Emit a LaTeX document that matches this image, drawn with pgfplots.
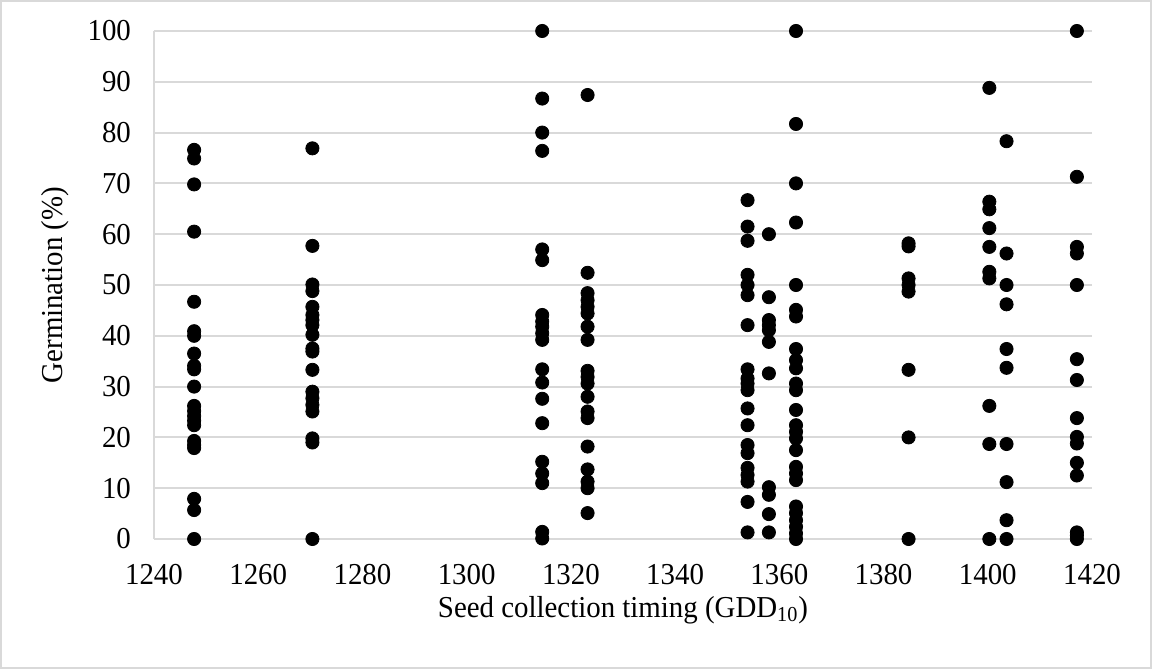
\documentclass[border=0pt]{standalone}
\usepackage{fontspec}
\setmainfont[FakeStretch=0.95]{Liberation Serif}
\usepackage{pgfplots}
\pgfplotsset{compat=1.18}
\begin{document}
\begin{tikzpicture}
\begin{axis}[
  scale only axis,
  width=469pt, height=254pt,
  xmin=1240, xmax=1420, ymin=0, ymax=100,
  xtick={1240,1260,...,1420},
  ytick={0,10,...,100},
  axis x line*=bottom, axis y line*=left,
  axis line style={draw=black!15, line width=1pt, -},
  major tick length=0pt,
  ymajorgrids, grid style={draw=black!15, line width=1pt},
  /pgf/number format/assume math mode=true,
  /pgf/number format/1000 sep={},
  tick label style={font=\fontsize{15.2}{18}\selectfont},
  xticklabel style={yshift=-9pt},
  yticklabel style={xshift=-8pt},
  label style={font=\fontsize{15.2}{18}\selectfont},
  xlabel={Seed collection timing (GDD\textsubscript{10})},
  ylabel={Germination (\%)},
  xlabel style={at={(axis description cs:0.5,-0.14)}, anchor=center},
  ylabel style={at={(axis description cs:-0.1055,0.5)}, anchor=center},
  clip=false,
]
\coordinate (O) at (rel axis cs:0,0);
\addplot[only marks, mark=*, mark size=3.3pt, black] table {
x y
1247.7 76.6
1247.7 74.9
1247.7 69.8
1247.7 60.5
1247.7 46.7
1247.7 40.9
1247.7 40.0
1247.7 36.5
1247.7 34.1
1247.7 33.4
1247.7 30.0
1247.7 26.2
1247.7 25.2
1247.7 24.2
1247.7 23.3
1247.7 22.4
1247.7 19.3
1247.7 18.5
1247.7 17.9
1247.7 7.9
1247.7 5.7
1247.7 0
1270.4 76.9
1270.4 57.7
1270.4 50.1
1270.4 48.8
1270.4 45.7
1270.4 44.1
1270.4 43.1
1270.4 42.1
1270.4 40.2
1270.4 37.5
1270.4 36.9
1270.4 33.3
1270.4 29.0
1270.4 27.7
1270.4 26.4
1270.4 25.1
1270.4 19.8
1270.4 19.0
1270.4 0
1314.5 100
1314.5 86.7
1314.5 80.0
1314.5 76.4
1314.5 57.0
1314.5 54.9
1314.5 44.1
1314.5 42.8
1314.5 41.8
1314.5 40.5
1314.5 39.2
1314.5 33.4
1314.5 30.8
1314.5 27.6
1314.5 22.8
1314.5 15.2
1314.5 12.9
1314.5 11.0
1314.5 1.4
1314.5 0.1
1323.2 87.4
1323.2 52.4
1323.2 48.4
1323.2 47.0
1323.2 45.7
1323.2 44.4
1323.2 41.8
1323.2 39.2
1323.2 33.1
1323.2 31.9
1323.2 30.6
1323.2 28.0
1323.2 25.1
1323.2 23.8
1323.2 18.2
1323.2 13.7
1323.2 11.3
1323.2 10.0
1323.2 5.1
1353.9 66.7
1353.9 61.5
1353.9 58.7
1353.9 52.0
1353.9 50.0
1353.9 48.0
1353.9 42.1
1353.9 33.4
1353.9 31.6
1353.9 30.6
1353.9 29.3
1353.9 25.7
1353.9 22.4
1353.9 18.5
1353.9 16.9
1353.9 14.0
1353.9 12.6
1353.9 11.3
1353.9 7.3
1353.9 1.3
1358.0 60.0
1358.0 47.6
1358.0 43.1
1358.0 42.1
1358.0 41.1
1358.0 38.8
1358.0 32.6
1358.0 10.2
1358.0 8.7
1358.0 4.9
1358.0 1.3
1363.2 100
1363.2 81.7
1363.2 70.0
1363.2 62.3
1363.2 50.0
1363.2 45.1
1363.2 43.8
1363.2 37.4
1363.2 35.2
1363.2 33.6
1363.2 30.6
1363.2 29.3
1363.2 25.4
1363.2 22.4
1363.2 21.1
1363.2 19.8
1363.2 17.5
1363.2 14.2
1363.2 12.9
1363.2 11.6
1363.2 6.4
1363.2 5.1
1363.2 3.7
1363.2 2.4
1363.2 1.1
1363.2 0
1384.8 58.2
1384.8 57.6
1384.8 51.3
1384.8 50.0
1384.8 48.7
1384.8 33.3
1384.8 20.0
1384.8 0
1400.3 88.8
1400.3 66.4
1400.3 64.9
1400.3 61.2
1400.3 57.5
1400.3 52.6
1400.3 51.3
1400.3 26.2
1400.3 18.7
1400.3 0
1403.6 78.3
1403.6 56.2
1403.6 50.0
1403.6 46.2
1403.6 37.4
1403.6 33.7
1403.6 18.7
1403.6 11.2
1403.6 3.7
1403.6 0
1417.1 100
1417.1 71.3
1417.1 57.5
1417.1 56.2
1417.1 50.0
1417.1 35.4
1417.1 31.3
1417.1 23.8
1417.1 20.1
1417.1 18.8
1417.1 15.0
1417.1 12.5
1417.1 1.3
1417.1 0.7
1417.1 0
};
\end{axis}
\draw[black!15, line width=1pt] ([shift={(-76.5pt,-64.5pt)}]O) rectangle ++(575pt,333.5pt);
\useasboundingbox ([shift={(-77pt,-65pt)}]O) rectangle ++(576pt,334.5pt);
\end{tikzpicture}
\end{document}
